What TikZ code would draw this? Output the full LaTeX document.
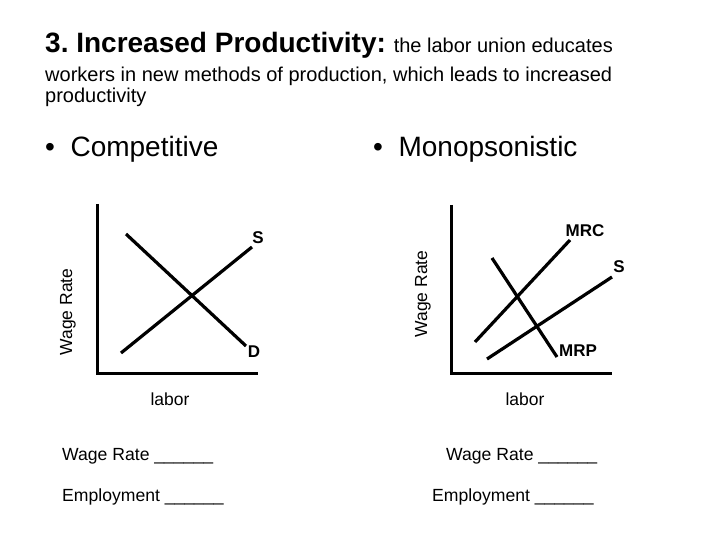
\documentclass[tikz,border=0pt]{standalone}
\usepackage{fontspec}
\setmainfont{Liberation Sans}
\frenchspacing
\begin{document}
\begin{tikzpicture}[x=1pt,y=-1pt,
  axis/.style={line width=3pt},
  curve/.style={line width=3.2pt},
  lbl/.style={font=\fontsize{17}{17}\selectfont\bfseries, inner sep=0pt},
  ax/.style={font=\fontsize{17.5}{17.5}\selectfont, inner sep=0pt},
  txt/.style={font=\fontsize{17.6}{17.6}\selectfont, inner sep=0pt, anchor=base west}]
\useasboundingbox (0,0) rectangle (720,540);
% title
\node[inner sep=0pt, anchor=base west] (t1) at (45,53)
  {\fontsize{28}{28}\selectfont\bfseries 3. Increased Productivity:\ \mdseries\fontsize{20}{20}\selectfont the labor union educates};
\node[inner sep=0pt, anchor=base west, font=\fontsize{20}{20}\selectfont] (t2) at (45,82)
  {workers in new methods of production, which leads to increased};
\node[inner sep=0pt, anchor=base west, font=\fontsize{20}{20}\selectfont] (t3) at (45,103)
  {productivity};
\node[inner sep=0pt, anchor=base west, font=\fontsize{28}{28}\selectfont] (h1) at (45,157) {\textbullet\ \ Competitive};
\node[inner sep=0pt, anchor=base west, font=\fontsize{28}{28}\selectfont] (h2) at (373,157) {\textbullet\ \ Monopsonistic};
% competitive graph
\coordinate (o1) at (97,373);
\coordinate (y1) at (97,204);
\coordinate (x1) at (258,373);
\draw[axis] (y1) -- (o1) -- (x1);
\coordinate (d1a) at (126,234);
\coordinate (d1b) at (246,346);
\coordinate (s1a) at (121,353);
\coordinate (s1b) at (252,247);
\draw[curve] (d1a) -- (d1b);
\draw[curve] (s1a) -- (s1b);
\node[lbl] (S1) at (258,238) {S};
\node[lbl] (D1) at (254,352) {D};
\node[ax, rotate=90] (w1) at (68,312) {Wage Rate};
\node[ax] (l1) at (170,399) {labor};
% monopsonistic graph
\coordinate (o2) at (451,373);
\coordinate (y2) at (451,205);
\coordinate (x2) at (612,373);
\draw[axis] (y2) -- (o2) -- (x2);
\coordinate (mrca) at (475,342);
\coordinate (mrcb) at (570,240);
\coordinate (s2a) at (487,359);
\coordinate (s2b) at (612,277);
\coordinate (mrpa) at (492,258);
\coordinate (mrpb) at (557,357);
\draw[curve] (mrca) -- (mrcb);
\draw[curve] (s2a) -- (s2b);
\draw[curve] (mrpa) -- (mrpb);
\node[lbl] (MRC) at (585,231) {MRC};
\node[lbl] (S2) at (619,267) {S};
\node[lbl] (MRP) at (578,351) {MRP};
\node[ax, rotate=90] (w2) at (423,294) {Wage Rate};
\node[ax] (l2) at (525,399) {labor};
% bottom
\node[txt] (wr1) at (62,460) {Wage Rate \_\_\_\_\_\_};
\node[txt] (em1) at (62,501) {Employment \_\_\_\_\_\_};
\node[txt] (wr2) at (446,460) {Wage Rate \_\_\_\_\_\_};
\node[txt] (em2) at (432,501) {Employment \_\_\_\_\_\_};
\end{tikzpicture}
\end{document}
